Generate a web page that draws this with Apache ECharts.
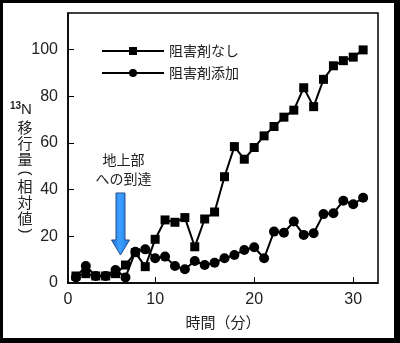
<!DOCTYPE html>
<html>
<head>
<meta charset="utf-8">
<script src="https://cdn.jsdelivr.net/npm/echarts@6/dist/echarts.min.js"></script>
<style>
  html, body { margin: 0; padding: 0; background: #fff; }
  #chart { width: 400px; height: 343px; }
</style>
</head>
<body>
<div id="chart"></div>
<script>
// Elapsed time (minutes) for each measurement
const minutes = [2, 3, 4, 5, 6, 7, 8, 9, 10, 11, 12, 13, 14, 15, 16, 17, 18, 19, 20, 21, 22, 23, 24, 25, 26, 27, 28, 29, 30, 31];
// Relative 13N transfer, no inhibitor
const noInhibitor = [3, 4, 3, 3, 4, 7.7, 13, 7, 18.7, 27, 26, 28, 15.5, 27.4, 30.4, 45.5, 58.4, 53, 58, 63, 67, 71, 74, 83.6, 75.5, 87.2, 93, 95.2, 96.7, 99.8];
// Relative 13N transfer, inhibitor added
const withInhibitor = [2.4, 7.3, 3, 3, 5.6, 2.4, 13.4, 14.4, 10.6, 11.3, 7.3, 5.9, 9.4, 7.7, 8.7, 10.6, 12, 14.1, 15.3, 10.6, 22, 21.5, 26.3, 20.6, 21.3, 29.5, 29.9, 35.2, 33.7, 36.5];
const seriesNames = ['阻害剤なし', '阻害剤添加'];
const xTicks = [10, 20, 30];
const yTicks = [20, 40, 60, 80, 100];
const xRange = [1.2, 32.5];
const yRange = [0, 115.6];
const arrivalMinute = 6.5;

const latin = '"Liberation Sans", Arial, sans-serif';
const cjk = '"Noto Sans CJK JP", "Noto Sans", sans-serif';

const chart = echarts.init(document.getElementById('chart'), null, { renderer: 'canvas' });

const pairs = (ys) => minutes.map((m, i) => [m, ys[i]]);

chart.setOption({
  animation: false,
  backgroundColor: '#fff',
  grid: {
    left: 68, right: 22, top: 13, bottom: 60,
    show: true, borderColor: '#000', borderWidth: 1.5, backgroundColor: 'transparent'
  },
  legend: {
    orient: 'vertical',
    left: 96, top: 39,
    itemWidth: 62, itemHeight: 10, itemGap: 8,
    textStyle: { fontFamily: cjk, fontSize: 14, color: '#222' },
    data: seriesNames
  },
  xAxis: {
    type: 'value',
    min: xRange[0], max: xRange[1],
    axisLine: { onZero: false, lineStyle: { color: '#000', width: 1.5 } },
    splitLine: { show: false },
    axisTick: { inside: true, length: 6, customValues: xTicks, lineStyle: { color: '#000', width: 1 } },
    axisLabel: {
      customValues: [xRange[0]].concat(xTicks),
      formatter: (v) => (v < 5 ? '0' : String(v)),
      fontFamily: latin, fontSize: 16, color: '#222', margin: 9
    },
    name: '時間（分）',
    nameLocation: 'middle',
    nameGap: 32,
    nameTextStyle: { fontFamily: cjk, fontSize: 15, color: '#222' }
  },
  yAxis: {
    type: 'value',
    min: yRange[0], max: yRange[1],
    axisLine: { onZero: false, lineStyle: { color: '#000', width: 1.5 } },
    splitLine: { show: false },
    axisTick: { inside: true, length: 6, customValues: yTicks, lineStyle: { color: '#000', width: 1 } },
    axisLabel: {
      customValues: [0].concat(yTicks),
      fontFamily: latin, fontSize: 16, color: '#222', margin: 10
    }
  },
  series: [
    {
      name: seriesNames[0], type: 'line', data: pairs(noInhibitor),
      symbol: 'rect', symbolSize: 9,
      lineStyle: { color: '#000', width: 2 },
      itemStyle: { color: '#000' }, z: 3
    },
    {
      name: seriesNames[1], type: 'line', data: pairs(withInhibitor),
      symbol: 'circle', symbolSize: 10,
      lineStyle: { color: '#000', width: 2 },
      itemStyle: { color: '#000' }, z: 4
    }
  ]
});

// Arrow marking arrival at the shoot, anchored to the time axis
const tip = chart.convertToPixel({ gridIndex: 0 }, [arrivalMinute, 12]);
const ax = tip[0];
const tipY = tip[1];
const arrow = [
  [ax - 4.5, tipY - 62], [ax + 4.5, tipY - 62], [ax + 4.5, tipY - 15],
  [ax + 9, tipY - 15], [ax, tipY], [ax - 9, tipY - 15], [ax - 4.5, tipY - 15]
];

// Vertical axis title: ¹³N over stacked characters; brackets turned upright
const yTitle = [['移', 127, 0], ['行', 143, 0], ['量', 159, 0], ['(', 173, -Math.PI / 2], ['相', 186, 0], ['対', 202, 0], ['値', 218, 0], [')', 231, -Math.PI / 2]];
const graphics = [
  // outer frame
  { type: 'rect', shape: { x: 0, y: 0, width: 400, height: 3 }, style: { fill: '#000' }, silent: true },
  { type: 'rect', shape: { x: 0, y: 0, width: 3, height: 343 }, style: { fill: '#000' }, silent: true },
  { type: 'rect', shape: { x: 394, y: 0, width: 6, height: 343 }, style: { fill: '#000' }, silent: true },
  { type: 'rect', shape: { x: 0, y: 338, width: 400, height: 5 }, style: { fill: '#000' }, silent: true },
  {
    type: 'polygon', shape: { points: arrow }, z: 10,
    style: {
      fill: new echarts.graphic.LinearGradient(0, 0, 1, 0, [
        { offset: 0, color: '#1a6fd6' }, { offset: 0.45, color: '#3da0ff' }, { offset: 1, color: '#1d78e0' }
      ]),
      stroke: '#2a4f8a', lineWidth: 1
    }
  },
  {
    type: 'text', x: ax + 3, y: tipY - 95, z: 10,
    style: { text: '地上部', fontFamily: cjk, fontSize: 14, fill: '#222', align: 'center', verticalAlign: 'middle' }
  },
  {
    type: 'text', x: ax + 3, y: tipY - 76, z: 10,
    style: { text: 'への到達', fontFamily: cjk, fontSize: 14, fill: '#222', align: 'center', verticalAlign: 'middle' }
  },
  {
    type: 'text', x: 21, y: 110,
    style: { text: 'N', fontFamily: latin, fontSize: 15, fill: '#222', align: 'left', verticalAlign: 'middle' }
  },
  {
    type: 'text', x: 21, y: 106,
    style: { text: '13', fontFamily: latin, fontSize: 10, fill: '#222', align: 'right', verticalAlign: 'middle', fontWeight: 'bold' }
  }
];
yTitle.forEach(([ch, y, rot]) => {
  graphics.push({
    type: 'text', x: 25, y: y, rotation: rot,
    style: {
      text: ch, fontFamily: rot ? latin : cjk, fontSize: 15, fill: '#222',
      align: 'center', verticalAlign: 'middle'
    }
  });
});
chart.setOption({ graphic: graphics });
</script>
</body>
</html>
